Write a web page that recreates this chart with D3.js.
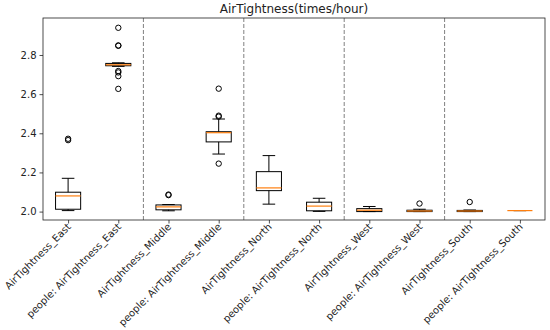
<!DOCTYPE html>
<html>
<head>
<meta charset="utf-8">
<script src="https://cdn.jsdelivr.net/npm/d3@7"></script>
<style>
  body { margin: 0; background: #fff; }
  text { font-family: "DejaVu Sans", sans-serif; fill: #222; }
</style>
</head>
<body>
<svg id="chart" width="550" height="330"></svg>
<script>
const categories = [
  'AirTightness_East', 'people: AirTightness_East',
  'AirTightness_Middle', 'people: AirTightness_Middle',
  'AirTightness_North', 'people: AirTightness_North',
  'AirTightness_West', 'people: AirTightness_West',
  'AirTightness_South', 'people: AirTightness_South'
]
const whiskerLow  = [2.005, 2.742, 2.004, 2.294, 2.038, 2.001, 2.000, 2.000, 2.000, 2.005]
const q1          = [2.012, 2.745, 2.009, 2.356, 2.107, 2.004, 2.000, 2.000, 2.000, 2.005]
const median      = [2.080, 2.750, 2.024, 2.403, 2.121, 2.028, 2.007, 2.003, 2.003, 2.005]
const q3          = [2.099, 2.757, 2.034, 2.408, 2.204, 2.048, 2.015, 2.007, 2.006, 2.005]
const whiskerHigh = [2.170, 2.760, 2.036, 2.473, 2.286, 2.068, 2.026, 2.012, 2.008, 2.005]
const outliers = [
  [2.365, 2.372],
  [2.939, 2.847, 2.849, 2.718, 2.711, 2.692, 2.627],
  [2.084, 2.087],
  [2.628, 2.490, 2.485, 2.245],
  [],
  [],
  [],
  [2.041],
  [2.049],
  []
]
const yTicks = [2.0, 2.2, 2.4, 2.6, 2.8]
const separators = [2.5, 4.5, 6.5, 8.5]
const title = 'AirTightness(times/hour)'

const margin = { top: 18, right: 5, bottom: 110, left: 43 }
const W = 550, H = 330
const w = W - margin.left - margin.right
const h = H - margin.top - margin.bottom

const svg = d3.select('#chart')
const g = svg.append('g').attr('transform', `translate(${margin.left}, ${margin.top})`)

const x = d3.scaleLinear().domain([0.5, categories.length + 0.5]).range([0, w])
const y = d3.scaleLinear().domain([1.957, 2.989]).range([h, 0])
const boxW = (x(1) - x(0)) * 0.5
const capW = boxW / 2

// separators
g.selectAll('line.sep')
  .data(separators)
  .enter().append('line')
  .attr('class', 'sep')
  .attr('x1', d => x(d)).attr('x2', d => x(d))
  .attr('y1', 0).attr('y2', h)
  .attr('stroke', '#808080')
  .attr('stroke-width', 1)
  .attr('stroke-dasharray', '4,2')

const boxes = g.selectAll('g.box')
  .data(categories.map((c, i) => ({ c, i })))
  .enter().append('g')
  .attr('class', 'box')
  .attr('transform', d => `translate(${x(d.i + 1)}, 0)`)

// whiskers
boxes.append('line')
  .attr('x1', 0).attr('x2', 0)
  .attr('y1', d => y(q3[d.i])).attr('y2', d => y(whiskerHigh[d.i]))
  .attr('stroke', '#000').attr('stroke-width', 1)
boxes.append('line')
  .attr('x1', 0).attr('x2', 0)
  .attr('y1', d => y(q1[d.i])).attr('y2', d => y(whiskerLow[d.i]))
  .attr('stroke', '#000').attr('stroke-width', 1)
boxes.append('line')
  .attr('x1', -capW / 2).attr('x2', capW / 2)
  .attr('y1', d => y(whiskerHigh[d.i])).attr('y2', d => y(whiskerHigh[d.i]))
  .attr('stroke', '#000').attr('stroke-width', 1)
boxes.append('line')
  .attr('x1', -capW / 2).attr('x2', capW / 2)
  .attr('y1', d => y(whiskerLow[d.i])).attr('y2', d => y(whiskerLow[d.i]))
  .attr('stroke', '#000').attr('stroke-width', 1)

// box
boxes.append('rect')
  .attr('x', -boxW / 2)
  .attr('width', boxW)
  .attr('y', d => y(q3[d.i]))
  .attr('height', d => y(q1[d.i]) - y(q3[d.i]))
  .attr('fill', 'none')
  .attr('stroke', '#000')
  .attr('stroke-width', 1)

// median
boxes.append('line')
  .attr('x1', -boxW / 2).attr('x2', boxW / 2)
  .attr('y1', d => y(median[d.i])).attr('y2', d => y(median[d.i]))
  .attr('stroke', '#ff7f0e').attr('stroke-width', 1.2)

// fliers
boxes.selectAll('circle')
  .data(d => outliers[d.i])
  .enter().append('circle')
  .attr('cx', 0)
  .attr('cy', d => y(d))
  .attr('r', 2.7)
  .attr('fill', 'none')
  .attr('stroke', '#000')
  .attr('stroke-width', 1)

// axes
const yAxis = g.append('g')
  .call(d3.axisLeft(y).tickValues(yTicks).tickFormat(d3.format('.1f')).tickSizeOuter(0).tickSize(3.5).tickPadding(3))
yAxis.selectAll('text').style('font-size', '10px')

const xAxis = g.append('g')
  .attr('transform', `translate(0, ${h})`)
  .call(d3.axisBottom(x).tickValues(d3.range(1, categories.length + 1)).tickFormat('').tickSizeOuter(0).tickSize(3.5))

g.selectAll('.domain').remove()
g.selectAll('.tick line').attr('stroke', '#222').attr('stroke-width', 0.8)

g.selectAll('text.xlab')
  .data(categories)
  .enter().append('text')
  .attr('class', 'xlab')
  .attr('transform', (d, i) => `translate(${x(i + 1) + 1}, ${h + 5}) rotate(-45)`)
  .attr('text-anchor', 'end')
  .attr('dy', '0.35em')
  .style('font-size', '10px')
  .text(d => d)

// frame
g.append('rect')
  .attr('width', w).attr('height', h)
  .attr('fill', 'none')
  .attr('stroke', '#222')
  .attr('stroke-width', 0.8)

svg.append('text')
  .attr('x', margin.left + w / 2)
  .attr('y', 13)
  .attr('text-anchor', 'middle')
  .style('font-size', '12px')
  .text(title)
</script>
</body>
</html>
